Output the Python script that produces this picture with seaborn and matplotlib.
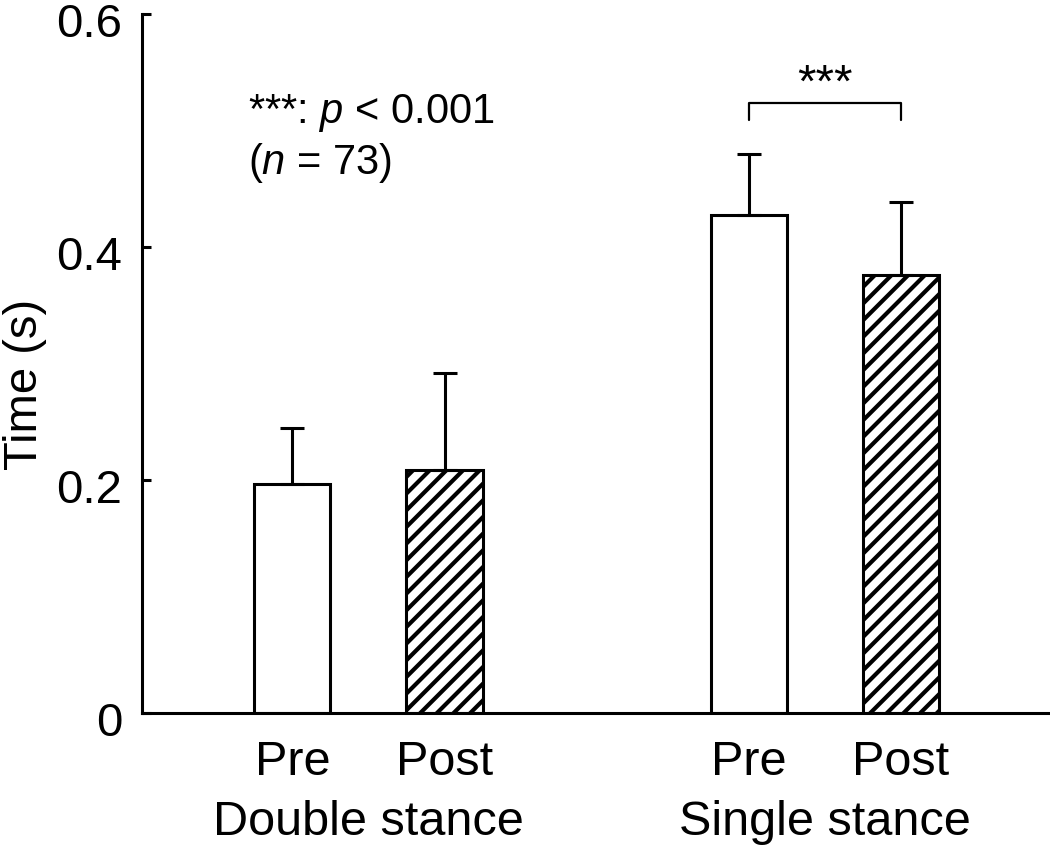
import pandas as pd
import matplotlib.pyplot as plt
import seaborn as sns
from matplotlib.transforms import blended_transform_factory, ScaledTranslation

# values
phases = ['Pre', 'Post', 'Pre', 'Post']
groups = ['Double stance', 'Single stance']
positions = [0, 1, 3, 4]
means = [0.197, 0.209, 0.428, 0.376]
sds = [0.048, 0.083, 0.052, 0.063]
yticks = [0, 0.2, 0.4, 0.6]
ytick_labels = ['0', '0.2', '0.4', '0.6']

df = pd.DataFrame({'pos': positions, 'phase': phases, 'time': means, 'sd': sds})

sns.set_style('ticks')
plt.rcParams['font.family'] = ['Liberation Sans', 'DejaVu Sans']
plt.rcParams['mathtext.fontset'] = 'custom'
plt.rcParams['mathtext.rm'] = 'Liberation Sans'
plt.rcParams['mathtext.it'] = 'Liberation Sans:italic'
plt.rcParams['hatch.linewidth'] = 3.0
plt.rcParams['hatch.color'] = 'black'
for key in ['text.color', 'axes.labelcolor', 'xtick.color', 'ytick.color', 'axes.edgecolor']:
    plt.rcParams[key] = 'black'

fig = plt.figure(figsize=(10.5, 8.47), dpi=100)
ax = fig.add_axes([0.135, 0.158, 0.865, 0.825])

sns.barplot(data=df, x='pos', y='time', native_scale=True, width=0.5,
            color='white', edgecolor='black', linewidth=2.2, errorbar=None, ax=ax)

# hatch the Post bars
for patch, ph in zip(sorted(ax.patches, key=lambda p: p.get_x()), phases):
    patch.set_facecolor('white')
    if ph == 'Post':
        patch.set_hatch('//')

# upward-only error bars
ax.errorbar(df['pos'], df['time'], yerr=[[0] * len(sds), df['sd']], fmt='none',
            ecolor='black', elinewidth=2.2, capsize=8.5, capthick=2.2, zorder=1)

ax.set_xlim(-0.99, 4.98)
ax.set_ylim(0, 0.6)
ax.set_yticks(yticks)
ax.set_yticklabels(ytick_labels)
ax.set_xticks(positions)
ax.set_xticklabels(phases)
ax.tick_params(axis='y', direction='in', length=6.5, width=2.2, pad=14, labelsize=34)
ax.tick_params(axis='x', length=0, pad=19, labelsize=35)
ax.set_xlabel('')
ax.set_ylabel('Time (s)', fontsize=34)
ax.yaxis.set_label_coords(-0.104, 0.47)

# y tick labels sit a little below their ticks in the original
for lab in ax.get_yticklabels():
    lab.set_transform(lab.get_transform() + ScaledTranslation(0, -4 / 72, fig.dpi_scale_trans))

for side in ['top', 'right']:
    ax.spines[side].set_visible(False)
ax.spines['left'].set_linewidth(2.2)
ax.spines['bottom'].set_linewidth(2.2)

# group labels under the tick labels
trans = blended_transform_factory(ax.transData, fig.transFigure)
ax.text(0.5, 0.029, groups[0], transform=trans, ha='center', va='center', fontsize=35)
ax.text(3.5, 0.029, groups[1], transform=trans, ha='center', va='center', fontsize=35)

# significance bracket
ax.plot([3, 3, 4, 4], [0.509, 0.524, 0.524, 0.509], color='black', lw=1.6, clip_on=False)
ax.text(3.5, 0.540, '***', ha='center', va='center', fontsize=34)

# note
ax.text(-0.29, 0.515, r'***: $p$ < 0.001', ha='left', va='center', fontsize=30)
ax.text(-0.29, 0.472, r'($n$ = 73)', ha='left', va='center', fontsize=30)

fig.savefig('out.png', dpi=100)
